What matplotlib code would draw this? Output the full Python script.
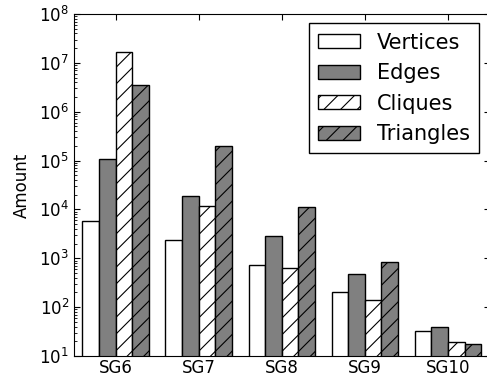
import matplotlib
matplotlib.use("Agg")
import matplotlib.pyplot as plt
import numpy as np
from matplotlib.ticker import LogLocator

categories = ["SG6", "SG7", "SG8", "SG9", "SG10"]
series_names = ["Vertices", "Edges", "Cliques", "Triangles"]
vertices = [5700, 2330, 718, 204, 32]
edges = [107000, 18800, 2810, 470, 39]
cliques = [16400000, 11600, 643, 138, 19.4]
triangles = [3470000, 199000, 11200, 827, 17.3]

plt.rcParams["hatch.linewidth"] = 0.8

fig = plt.figure(figsize=(4.87, 3.81), dpi=100)
ax = fig.add_axes([74/487, (381-356)/381, (489.5-74)/487, (356-14)/381])

x = np.arange(len(categories))
w = 0.2
styles = [
    dict(color="white", hatch=None),
    dict(color="#808080", hatch=None),
    dict(color="white", hatch="//"),
    dict(color="#808080", hatch="//"),
]
data = [vertices, edges, cliques, triangles]
for i, (name, vals, st) in enumerate(zip(series_names, data, styles)):
    ax.bar(x + (i - 1.5) * w, vals, w, color=st["color"], edgecolor="black",
           linewidth=1, hatch=st["hatch"], label=name)

ax.set_yscale("log")
ax.set_ylim(10, 1e8)
ax.set_xlim(-0.5, 4.5)
ax.set_xticks(x)
ax.set_xticklabels(categories, fontsize=12)
ax.set_ylabel("Amount", fontsize=12, labelpad=6)
ax.tick_params(axis="y", labelsize=12)
ax.tick_params(axis="x", pad=2)
ax.yaxis.set_major_locator(LogLocator(base=10, numticks=10))
ax.yaxis.set_minor_locator(LogLocator(base=10, subs=np.arange(2, 10), numticks=20))
ax.tick_params(which="both", direction="in", top=True, right=True)
ax.tick_params(which="major", length=4)
ax.tick_params(which="minor", length=2)

leg = ax.legend(loc="upper right", fontsize=15, fancybox=False, edgecolor="black",
                framealpha=1, bbox_to_anchor=(0.985, 0.985), borderaxespad=0.2,
                handlelength=2.0, handleheight=0.65, handletextpad=0.8,
                labelspacing=0.5, borderpad=0.45)
leg.get_frame().set_linewidth(1)

fig.savefig("out.png", dpi=100)
